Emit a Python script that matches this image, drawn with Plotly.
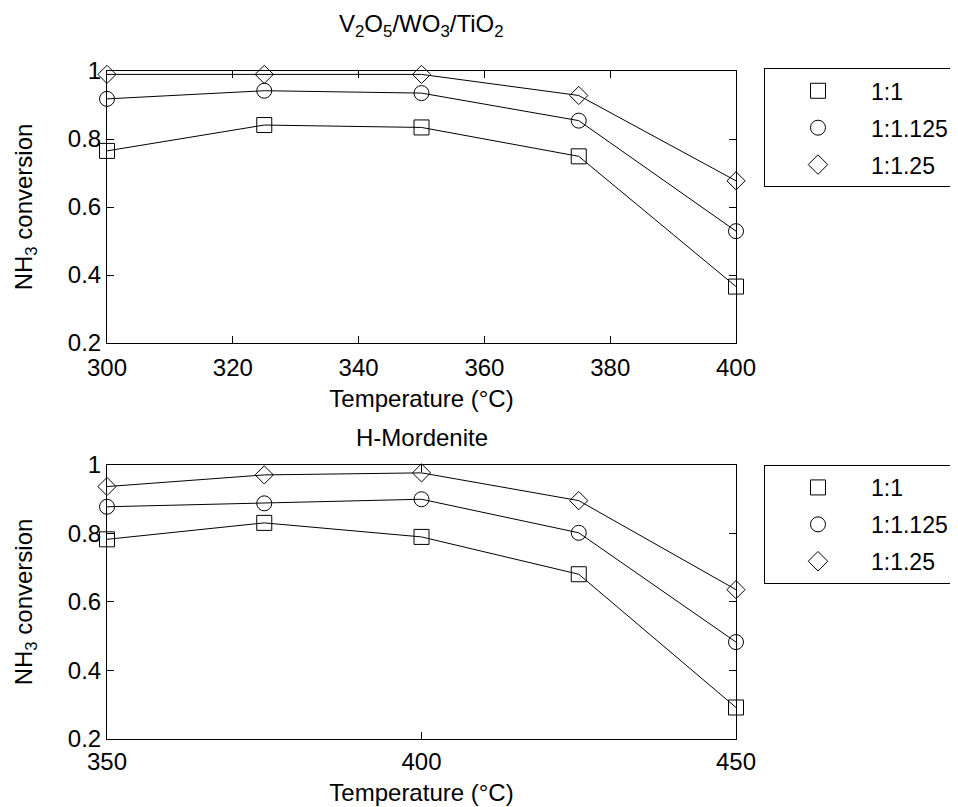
import plotly.graph_objects as go

# ---- data ----
temps_top = [300, 325, 350, 375, 400]
temps_bot = [350, 375, 400, 425, 450]
series_names = ["1:1", "1:1.125", "1:1.25"]
symbols = ["square-open", "circle-open", "diamond-open"]

v2o5_11 = [0.765, 0.841, 0.834, 0.749, 0.366]
v2o5_11125 = [0.918, 0.942, 0.935, 0.854, 0.529]
v2o5_1125 = [0.990, 0.990, 0.990, 0.928, 0.677]

hmor_11 = [0.783, 0.831, 0.790, 0.681, 0.292]
hmor_11125 = [0.878, 0.888, 0.900, 0.802, 0.483]
hmor_1125 = [0.937, 0.971, 0.977, 0.896, 0.636]

top_series = [v2o5_11, v2o5_11125, v2o5_1125]
bot_series = [hmor_11, hmor_11125, hmor_1125]

FONT = "Liberation Sans, Arial, sans-serif"
FS = 24
LFS = 23
msizes = {"square-open": 15, "circle-open": 15, "diamond-open": 14}

fig = go.Figure()

for i, (name, sym) in enumerate(zip(series_names, symbols)):
    for xs, ys, xa, ya in [(temps_top, top_series[i], "x", "y"),
                           (temps_bot, bot_series[i], "x2", "y2")]:
        fig.add_trace(go.Scatter(x=xs, y=ys, mode="lines+markers",
                                 line=dict(color="black", width=1),
                                 marker=dict(symbol=sym, size=msizes[sym], color="black",
                                             line=dict(width=1, color="black")),
                                 xaxis=xa, yaxis=ya, showlegend=False, cliponaxis=False))

# legend-only entries (markers only)
for i, (name, sym) in enumerate(zip(series_names, symbols)):
    for leg in ["legend", "legend2"]:
        fig.add_trace(go.Scatter(x=[None], y=[None], mode="markers", name=name,
                                 marker=dict(symbol=sym, size=15, color="black",
                                             line=dict(width=1, color="black")),
                                 legend=leg, legendgroup=leg + str(i),
                                 xaxis="x" if leg == "legend" else "x2",
                                 yaxis="y" if leg == "legend" else "y2"))

axis_common = dict(showline=True, linecolor="black", linewidth=1, mirror="ticks",
                   ticks="inside", ticklen=7, tickcolor="black", showgrid=False,
                   zeroline=False, tickfont=dict(family=FONT, size=FS, color="black"))

legend_common = dict(bordercolor="black", borderwidth=1, bgcolor="white",
                     font=dict(family=FONT, size=LFS, color="black"),
                     xanchor="left", yanchor="top", itemwidth=96,
                     tracegroupgap=4, traceorder="grouped", itemclick=False)

xt = dict(text="Temperature (°C)", standoff=10, font=dict(family=FONT, size=FS))
yt = dict(text="NH<sub>3</sub> conversion", standoff=28, font=dict(family=FONT, size=FS))

fig.update_layout(
    width=950, height=799,
    paper_bgcolor="white", plot_bgcolor="white",
    margin=dict(l=99, r=222, t=63, b=68, autoexpand=False),
    font=dict(family=FONT, size=FS, color="black"),
    xaxis=dict(domain=[0, 1], anchor="y", range=[300, 400], dtick=20,
               ticklabelstandoff=3, title=xt, **axis_common),
    yaxis=dict(domain=[0.5928, 1], anchor="x", range=[0.2, 1], dtick=0.2,
               tickformat="~g", title=yt, **axis_common),
    xaxis2=dict(domain=[0, 1], anchor="y2", range=[350, 450], dtick=50,
                ticklabelstandoff=1, title=xt, **axis_common),
    yaxis2=dict(domain=[0, 0.4102], anchor="x2", range=[0.2, 1], dtick=0.2,
                tickformat="~g", title=yt, **axis_common),
    legend=dict(x=1.0445, y=1.004, **legend_common),
    legend2=dict(x=1.0445, y=0.4102, **legend_common),
    annotations=[
        dict(text="V<sub>2</sub>O<sub>5</sub>/WO<sub>3</sub>/TiO<sub>2</sub>",
             x=0.5, y=1.068, xref="paper", yref="paper", showarrow=False,
             yanchor="middle", font=dict(family=FONT, size=FS, color="black")),
        dict(text="H-Mordenite", x=0.5, y=0.4513, xref="paper", yref="paper",
             yanchor="middle", showarrow=False,
             font=dict(family=FONT, size=FS, color="black")),
    ],
)

fig.write_html("out.html")
